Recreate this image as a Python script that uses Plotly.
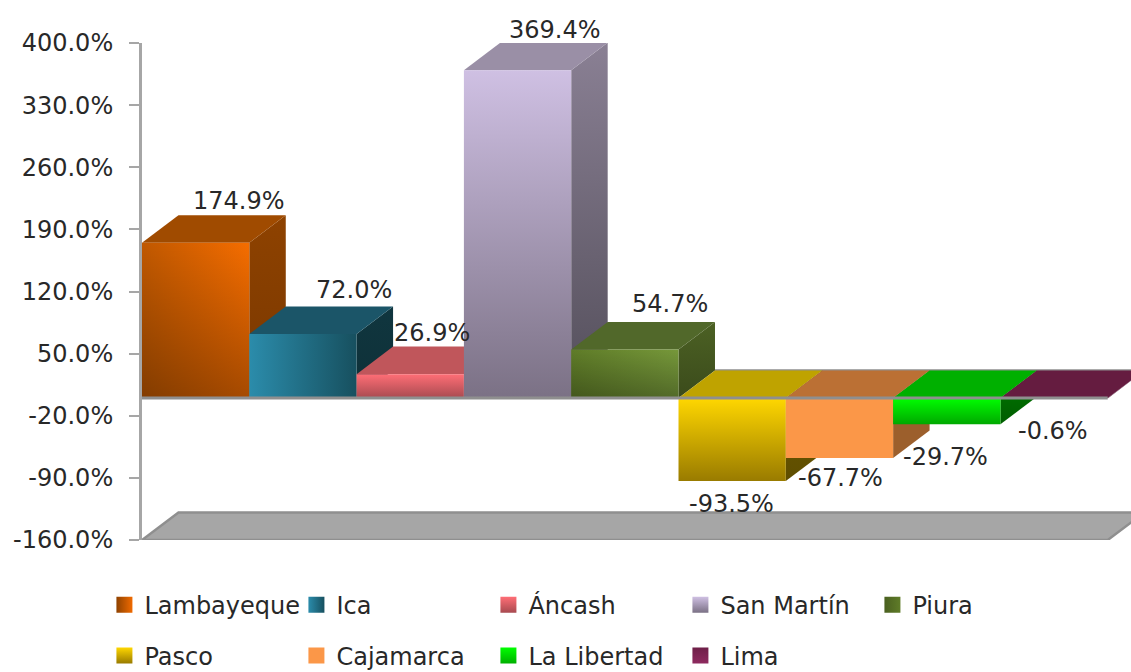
import plotly.graph_objects as go

categories = ["Lambayeque", "Ica", "Áncash", "San Martín", "Piura",
              "Pasco", "Cajamarca", "La Libertad", "Lima"]
values = [174.9, 72.0, 26.9, 369.4, 54.7, -93.5, -67.7, -29.7, -0.6]
labels = ["174.9%", "72.0%", "26.9%", "369.4%", "54.7%",
          "-93.5%", "-67.7%", "-29.7%", "-0.6%"]
tick_vals = [-160, -90, -20, 50, 120, 190, 260, 330, 400]
tick_text = ["-160.0%", "-90.0%", "-20.0%", "50.0%", "120.0%",
             "190.0%", "260.0%", "330.0%", "400.0%"]

# front face gradient: (type, start colour, end colour, darkening at bottom)
front_styles = [
    ("horizontal", "#c05800", "#f56d00", 0.32),
    ("horizontal", "#2b8cab", "#17505f", 0.0),
    ("vertical", "#ff6e76", "#a84a50", 0.0),
    ("vertical", "#cfc0e3", "#7b7185", 0.0),
    ("horizontal", "#5f7c28", "#76983a", 0.30),
    ("vertical", "#ffd700", "#997b00", 0.0),
    ("vertical", "#fb9748", "#fb9748", 0.0),
    ("vertical", "#00ff00", "#00a800", 0.0),
    ("vertical", "#6e1f48", "#8e2a5f", 0.0),
]
legend_a = ["#8f4200", "#2b8cab", "#ff6e76", "#cfc0e3", "#4a6020",
            "#ffd700", "#fb9748", "#00ff00", "#6e1f48"]
legend_b = ["#f06a00", "#17505f", "#a84a50", "#7b7185", "#5f7c28",
            "#997b00", "#fb9748", "#00b000", "#8e2a5f"]
top_colors = ["#a04b00", "#1b5568", "#c0565b", "#9a8fa6", "#51682a",
              "#bfa300", "#bb7034", "#00b000", "#651c40"]
side_top = ["#8e4200", "#10363f", "#8f3f42", "#8a8094", "#4c6124",
            "#6e5a00", "#9c5f2c", "#007a00", "#4a1430"]
side_bottom = ["#7a3800", "#0e3038", "#7a3639", "#534e5a", "#3b4b1b",
               "#5f4e00", "#9c5f2c", "#005c00", "#4a1430"]
label_dx = [43, 51, 22, 37, 45, -1, 1, -1, -1]
label_dy = [42, 44, 41, 40, 45, -23, -20, -33, -32]
legend_rows = [categories[:5], categories[5:]]

DX = 0.34    # 3-D depth in category units
DY = 31.0    # 3-D depth in value units
FLOOR = -160.0
TOP = 400.0
GAP = 9.217  # visible category span
N = len(categories)
GRAY = "#a6a6a6"
EDGE = "#8f8f8f"
FONT = "DejaVu Sans"
TEXT = "#282828"


def poly(xs, ys, **kw):
    return go.Scatter(x=xs + xs[:1], y=ys + ys[:1], mode="lines", fill="toself",
                      line=dict(width=0), hoverinfo="skip", showlegend=False,
                      cliponaxis=True, **kw)


fig = go.Figure()

# floor
fig.add_trace(go.Scatter(
    x=[0, DX, N + DX, N, 0], y=[FLOOR, FLOOR + DY, FLOOR + DY, FLOOR, FLOOR],
    mode="lines", fill="toself", fillcolor=GRAY, line=dict(color=EDGE, width=2.5),
    hoverinfo="skip", showlegend=False, cliponaxis=False))

# back edge of the zero plane
fig.add_trace(go.Scatter(x=[5 + DX, N + DX], y=[DY, DY], mode="lines",
                         line=dict(color=EDGE, width=2.5), hoverinfo="skip",
                         showlegend=False))

for i, v in enumerate(values):
    x0, x1 = i, i + 1
    # side face
    fig.add_trace(poly([x1, x1 + DX, x1 + DX, x1], [0, DY, v + DY, v],
                       fillgradient=dict(type="vertical",
                                         colorscale=[[0, side_bottom[i]], [1, side_top[i]]])))
    # top face: at the value for positive bars, at the zero plane for negative ones
    ty = max(v, 0)
    fig.add_trace(poly([x0, x0 + DX, x1 + DX, x1], [ty, ty + DY, ty + DY, ty],
                       fillcolor=top_colors[i]))
    # front face
    kind, c0, c1, dark = front_styles[i]
    if kind == "vertical":
        scale = [[0, c1], [1, c0]]
    else:
        scale = [[0, c0], [1, c1]]
    fig.add_trace(poly([x0, x1, x1, x0], [0, 0, v, v],
                       fillgradient=dict(type=kind, colorscale=scale)))
    if dark:
        fig.add_trace(poly([x0, x1, x1, x0], [0, 0, v, v],
                           fillgradient=dict(type="vertical", colorscale=[
                               [0, f"rgba(0,0,0,{dark})"], [1, "rgba(0,0,0,0)"]])))

# zero line over the bars
fig.add_trace(go.Scatter(x=[0, N], y=[0, 0], mode="lines",
                         line=dict(color=EDGE, width=3), hoverinfo="skip",
                         showlegend=False))

# legend entries
k = 0
for r, row in enumerate(legend_rows):
    for name in row:
        kind = front_styles[k][0]
        fig.add_trace(go.Scatter(
            x=[None], y=[None], mode="markers", name=name,
            legend="legend" if r == 0 else "legend2",
            marker=dict(symbol="square", size=16, color=legend_a[k],
                        gradient=dict(type=kind, color=legend_b[k]),
                        line=dict(width=0))))
        k += 1

legend_common = dict(orientation="h", xanchor="left", yanchor="middle", x=-0.038,
                     bgcolor="rgba(0,0,0,0)", borderwidth=0,
                     entrywidth=147, entrywidthmode="pixels", itemclick=False,
                     itemdoubleclick=False, font=dict(family=FONT, size=24, color=TEXT))

for c, v, t, dx, dy in zip(range(N), values, labels, label_dx, label_dy):
    fig.add_annotation(x=c + 0.5, y=v, text=t, showarrow=False, xshift=dx, yshift=dy,
                       xanchor="center", yanchor="middle",
                       font=dict(family=FONT, size=24, color=TEXT))

fig.update_layout(
    width=1131, height=672, autosize=False,
    margin=dict(l=142, r=0, t=43, b=132, pad=0, autoexpand=False),
    paper_bgcolor="white", plot_bgcolor="white",
    legend=dict(y=-0.131, **legend_common),
    legend2=dict(y=-0.233, **legend_common),
    xaxis=dict(range=[0, GAP], visible=False, fixedrange=True),
    yaxis=dict(range=[FLOOR, TOP], tickmode="array", tickvals=tick_vals, ticktext=tick_text,
               showgrid=False, zeroline=False, showline=True, linecolor=GRAY, linewidth=3,
               ticks="outside", ticklen=10, tickwidth=2, tickcolor=GRAY,
               ticklabelstandoff=11, fixedrange=True,
               tickfont=dict(family=FONT, size=24, color=TEXT)),
)

fig.write_html("out.html", config={"displayModeBar": False},
               post_script="document.body.style.margin='0';")
